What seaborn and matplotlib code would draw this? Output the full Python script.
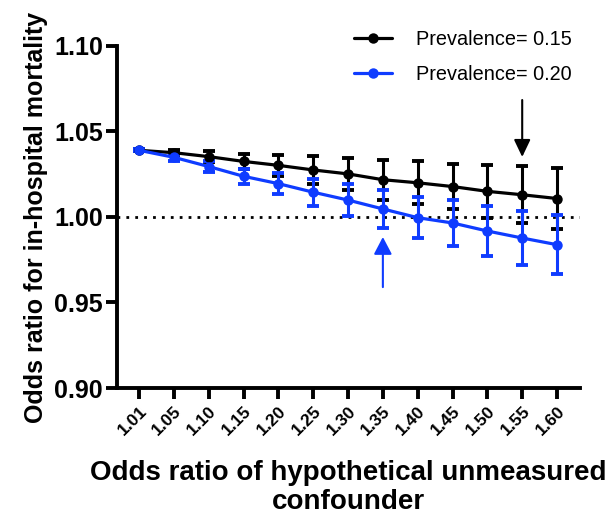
import matplotlib
matplotlib.use("Agg")
import matplotlib.pyplot as plt
import seaborn as sns
import pandas as pd
import numpy as np

categories = ["1.01", "1.05", "1.10", "1.15", "1.20", "1.25", "1.30",
              "1.35", "1.40", "1.45", "1.50", "1.55", "1.60"]
prev15 = [1.039, 1.0376, 1.0353, 1.0325, 1.0302, 1.0275, 1.0252,
          1.0218, 1.0200, 1.0178, 1.0150, 1.0130, 1.0108]
err15 = [0.0005, 0.0015, 0.003, 0.0045, 0.0062, 0.008, 0.0094,
         0.0116, 0.0125, 0.0133, 0.0155, 0.0168, 0.018]
prev20 = [1.039, 1.0349, 1.0295, 1.0238, 1.0195, 1.0145, 1.0099,
          1.0047, 0.9996, 0.9965, 0.9918, 0.9877, 0.9838]
err20 = [0.0005, 0.002, 0.003, 0.0045, 0.0063, 0.008, 0.0093,
         0.011, 0.012, 0.0133, 0.0146, 0.016, 0.0172]
series_names = ["Prevalence= 0.15", "Prevalence= 0.20"]
colors = ["#000000", "#0f3cff"]

sns.set_style("ticks")
plt.rcParams['font.family'] = ['Liberation Sans', 'DejaVu Sans']
for k in ["text.color", "axes.labelcolor", "xtick.color", "ytick.color", "axes.edgecolor"]:
    plt.rcParams[k] = "black"

fig = plt.figure(figsize=(6.08, 5.19), dpi=100)
ax = fig.add_axes([0.192, 0.2524, 0.762, 0.659])

x = np.arange(len(categories))
df = pd.DataFrame({
    "x": np.concatenate([x, x]),
    "y": prev15 + prev20,
    "series": [series_names[0]] * len(x) + [series_names[1]] * len(x),
})

# error bars
ax.errorbar(x, prev20, yerr=err20, fmt="none", ecolor=colors[1], elinewidth=2.2,
            capsize=4.5, capthick=2.8, zorder=3)
ax.errorbar(x, prev15, yerr=err15, fmt="none", ecolor=colors[0], elinewidth=2.2,
            capsize=4.5, capthick=2.8, zorder=2)

sns.lineplot(data=df, x="x", y="y", hue="series", palette=colors,
             hue_order=series_names, marker="o", markersize=7.5, markeredgewidth=0,
             linewidth=2.3, ax=ax, zorder=4)

ax.axhline(1.0, color="black", linestyle=(0, (1, 2.2)), linewidth=2.0, zorder=1)

# arrows
ax.annotate("", xy=(11, 1.0351), xytext=(11, 1.0684),
            arrowprops=dict(arrowstyle="-|>,head_length=1.05,head_width=0.5",
                            color="black", lw=1.5, shrinkA=0, shrinkB=0), zorder=5)
ax.annotate("", xy=(7, 0.9883), xytext=(7, 0.959),
            arrowprops=dict(arrowstyle="-|>,head_length=1.05,head_width=0.55",
                            color=colors[1], lw=1.5, shrinkA=0, shrinkB=0), zorder=5)

ax.set_xlim(-0.64, 12.66)
ax.set_ylim(0.90, 1.10)
ax.set_yticks([0.90, 0.95, 1.00, 1.05, 1.10])
ax.set_yticklabels(["0.90", "0.95", "1.00", "1.05", "1.10"],
                   fontsize=18, fontweight="bold")
ax.set_xticks(x)
ax.set_xticklabels(categories, rotation=45, ha="right", rotation_mode="anchor",
                   fontsize=12.5, fontweight="bold")

for s in ["top", "right"]:
    ax.spines[s].set_visible(False)
for s in ["left", "bottom"]:
    ax.spines[s].set_linewidth(2.8)
ax.tick_params(axis="both", width=2.8, length=8, direction="out")
ax.tick_params(axis="x", pad=3)
ax.tick_params(axis="y", pad=2)

ax.set_ylabel("Odds ratio for in-hospital mortality", fontsize=18,
              fontweight="bold", labelpad=4)
ax.set_xlabel("Odds ratio of hypothetical unmeasured\nconfounder", fontsize=20,
              fontweight="bold", labelpad=16, linespacing=1.12)

leg = ax.legend(loc="upper right", bbox_to_anchor=(1.02, 1.10), frameon=False,
                fontsize=14.3, handlelength=1.9, handletextpad=1.2,
                labelspacing=0.8)

fig.savefig("out.png", dpi=100)
